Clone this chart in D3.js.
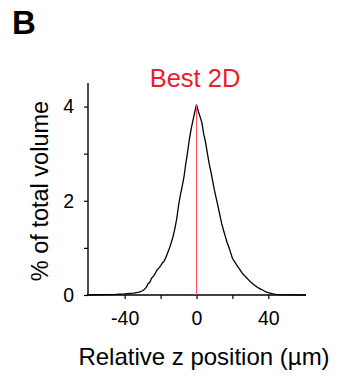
<!DOCTYPE html>
<html><head><meta charset="utf-8">
<script src="https://cdn.jsdelivr.net/npm/d3@7"></script>
<style>body{margin:0;background:#fff;} svg{display:block;font-family:"Liberation Sans",Arial,sans-serif;}</style>
</head><body>
<script>
const zPos = [-61,-55,-50,-45,-40,-35,-32,-30,-29,-28,-27,-26,-25,-24,-23,-22,-21,-20,-19,-18,-17,-16,-15,-14,-13,-12,-11,-10,-9,-8,-7,-6,-5,-4,-3,-2,-1,0,1,2,3,4,5,6,7,8,9,10,11,12,13,14,15,16,17,18,19,20,21,22,23,24,25,26,27,28,29,30,31,32,33,34,35,36,37,38,39,40,42,44,46,48,50,55,61];
const volumePct = [0,0.005,0.01,0.015,0.025,0.04,0.06,0.09,0.12,0.16,0.24,0.27,0.36,0.40,0.46,0.53,0.57,0.62,0.68,0.72,0.80,0.90,1.00,1.12,1.25,1.42,1.62,1.90,2.12,2.30,2.50,2.78,3.02,3.30,3.52,3.70,3.88,4.04,3.90,3.78,3.66,3.42,3.25,3.02,2.80,2.62,2.42,2.22,2.05,1.88,1.70,1.52,1.38,1.25,1.12,1.02,0.90,0.78,0.72,0.66,0.60,0.55,0.49,0.44,0.40,0.36,0.32,0.28,0.25,0.22,0.19,0.16,0.14,0.12,0.10,0.08,0.06,0.05,0.03,0.015,0.008,0.004,0.002,0.001,0];
const xTicks = [-40,-20,0,20,40];
const xTickLabels = ["-40","","0","","40"];
const yTicks = [0,1,2,3,4];
const yTickLabels = ["0","","2","","4"];
const markerZ = [0];
const panelLabel = "B";
const titleText = "Best 2D";
const xTitle = "Relative z position (\u00b5m)";
const yTitle = "% of total volume";

const W = 337, H = 383;
const svg = d3.select("body").append("svg").attr("width", W).attr("height", H);
const x = d3.scaleLinear().domain([-61, 61]).range([87, 306]);
const y = d3.scaleLinear().domain([0, 4.5]).range([295, 83]);

svg.append("text").attr("x", 12).attr("y", 34).attr("font-size", 33).attr("font-weight", "bold").text(panelLabel);
svg.append("text").attr("x", 195).attr("y", 87).attr("text-anchor", "middle").attr("font-size", 25.5).attr("fill", "#ee1c2a").text(titleText);

const xa = svg.append("g").attr("transform", `translate(0,${y(0)})`)
  .call(d3.axisBottom(x).tickValues(xTicks).tickSize(4).tickPadding(12).tickFormat((d,i)=>xTickLabels[i]));
const ya = svg.append("g").attr("transform", `translate(${x(-61)+1},0)`)
  .call(d3.axisLeft(y).tickValues(yTicks).tickSize(4).tickPadding(10).tickFormat((d,i)=>yTickLabels[i]));
[xa, ya].forEach(g => {
  g.select(".domain").attr("stroke", "#000").attr("stroke-width", 1.4);
  g.selectAll(".tick line").attr("stroke", "#000").attr("stroke-width", 1.2);
  g.selectAll("text").attr("font-size", 19.5).attr("font-family", "Liberation Sans, Arial, sans-serif").attr("fill", "#000");
});
ya.select(".domain").attr("d", `M0,${y(4.5)}V${y(0)}`);
xa.select(".domain").attr("d", `M${x(-61)},0H${x(61)}`);

const pts = zPos.map((z,i)=>[z, volumePct[i]]);
svg.append("path").datum(pts).attr("fill","none").attr("stroke","#000").attr("stroke-width",1.3)
  .attr("d", d3.line().x(d=>x(d[0])).y(d=>y(d[1])));

svg.selectAll(".marker").data(markerZ).enter().append("line")
  .attr("x1", d=>x(d)).attr("x2", d=>x(d)).attr("y1", y(0)).attr("y2", y(4.03))
  .attr("stroke", "#ff5566").attr("stroke-width", 1.2);

svg.append("text").attr("x", 204).attr("y", 365).attr("text-anchor","middle").attr("font-size", 24).text(xTitle);
svg.append("text").attr("transform", "translate(48,191) rotate(-90)").attr("text-anchor","middle").attr("font-size", 23.5).text(yTitle);
</script>
</body></html>
